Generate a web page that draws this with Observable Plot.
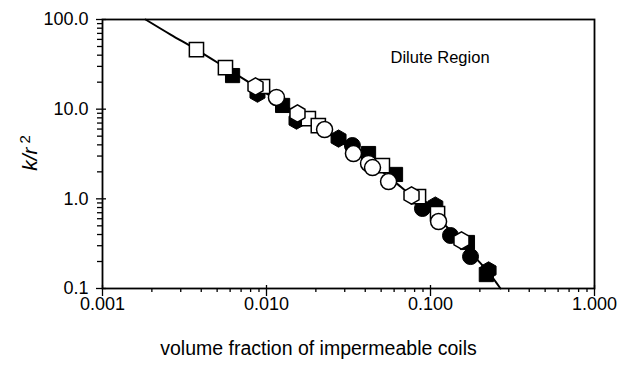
<!DOCTYPE html>
<html>
<head>
<meta charset="utf-8">
<script src="https://cdn.jsdelivr.net/npm/d3@7"></script>
<script src="https://cdn.jsdelivr.net/npm/@observablehq/plot@0.6"></script>
<style>
  html, body { margin: 0; padding: 0; background: #fff; }
  #chart { width: 623px; height: 365px; }
</style>
</head>
<body>
<div id="chart"></div>
<script>
// ---- data ----
const openSquareX   = [0.00374, 0.00562, 0.00946, 0.0180, 0.0207, 0.0509, 0.0845, 0.1104];
const openSquareY   = [46.2, 29.1, 17.9, 7.86, 6.56, 2.35, 1.06, 0.686];
const filledSquareX = [0.00621, 0.01254, 0.0419, 0.0612, 0.168, 0.219];
const filledSquareY = [23.7, 11.0, 3.20, 1.87, 0.326, 0.143];
const openHexX      = [0.00857, 0.01545, 0.0766, 0.1545];
const openHexY      = [17.9, 8.93, 1.09, 0.343];
const filledHexX    = [0.00881, 0.01524, 0.0275, 0.107, 0.226];
const filledHexY    = [14.9, 7.46, 4.70, 0.841, 0.159];
const openCircleX   = [0.0115, 0.0226, 0.0339, 0.0419, 0.0443, 0.0555, 0.112];
const openCircleY   = [13.5, 5.93, 3.20, 2.48, 2.23, 1.56, 0.558];
const filledCircleX = [0.0334, 0.0893, 0.1324, 0.1754];
const filledCircleY = [3.93, 0.780, 0.390, 0.227];
// model curve, read along its path
const curveX = [0.00183, 0.00260, 0.00374, 0.00562, 0.00857, 0.01216, 0.01610, 0.0229, 0.0325, 0.0462, 0.0656, 0.0933, 0.1324, 0.1754, 0.226, 0.267];
const curveY = [100, 67.9, 46.2, 29.1, 17.9, 11.85, 8.49, 5.63, 3.64, 2.29, 1.371, 0.800, 0.444, 0.252, 0.151, 0.1];

const xMajor = [0.001, 0.01, 0.1, 1];
const yMajor = [0.1, 1, 10, 100];
const xMinor = xMajor.slice(0, -1).flatMap(d => [2,3,4,5,6,7,8,9].map(k => k * d));
const yMinor = yMajor.slice(0, -1).flatMap(d => [2,3,4,5,6,7,8,9].map(k => k * d));
const xLabel = "volume fraction of impermeable coils";
const annotation = "Dilute Region";

const pts = (xs, ys) => xs.map((x, i) => ({x, y: ys[i]}));

const font = "'Liberation Sans', Arial, Helvetica, sans-serif";

const chart = Plot.plot({
  width: 623,
  height: 365,
  marginLeft: 102,
  marginRight: 29,
  marginTop: 19,
  marginBottom: 77,
  style: {fontFamily: font, fontSize: "18px", color: "#000", background: "#fff"},
  x: {type: "log", domain: [0.001, 1]},
  y: {type: "log", domain: [0.1, 100]},
  marks: [
    // minor ticks
    Plot.axisX({ticks: xMinor, tickSize: 4, tickFormat: () => "", label: null, strokeWidth: 1.3}),
    Plot.axisY({ticks: yMinor, tickSize: 5, tickFormat: () => "", label: null, strokeWidth: 1.3}),
    // major ticks + labels
    Plot.axisX({ticks: xMajor, tickSize: 8, tickPadding: 1, tickFormat: d3.format(".3f"), label: null, strokeWidth: 1.3, fontSize: 18}),
    Plot.axisY({ticks: yMajor, tickSize: 6, tickPadding: 8, tickFormat: d3.format(".1f"), label: null, strokeWidth: 1.3, fontSize: 18}),
    // inward part of major ticks
    Plot.ruleX(xMajor, {y1: 0.1, y2: 0.1, insetTop: -3, stroke: "#000", strokeWidth: 1.3}),
    Plot.ruleY(yMajor, {x1: 0.001, x2: 0.001, insetRight: -4, stroke: "#000", strokeWidth: 1.3}),
    Plot.frame({stroke: "#000", strokeWidth: 1.8}),
    // model curve
    Plot.line(pts(curveX, curveY), {x: "x", y: "y", stroke: "#000", strokeWidth: 2, curve: "monotone-x"}),
    // filled symbols
    Plot.dot(pts(filledSquareX, filledSquareY), {x: "x", y: "y", symbol: "square", r: 8, fill: "#000", stroke: "#000", strokeWidth: 1}),
    Plot.dot(pts(filledHexX, filledHexY), {x: "x", y: "y", symbol: "hexagon", r: 7.5, fill: "#000", stroke: "#000", strokeWidth: 1}),
    Plot.dot(pts(filledCircleX, filledCircleY), {x: "x", y: "y", symbol: "circle", r: 8, fill: "#000", stroke: "#000", strokeWidth: 1}),
    // open symbols
    Plot.dot(pts(openSquareX, openSquareY), {x: "x", y: "y", symbol: "square", r: 8, fill: "#fff", stroke: "#000", strokeWidth: 1.5}),
    Plot.dot(pts(openHexX, openHexY), {x: "x", y: "y", symbol: "hexagon", r: 7.5, fill: "#fff", stroke: "#000", strokeWidth: 1.5}),
    Plot.dot(pts(openCircleX, openCircleY), {x: "x", y: "y", symbol: "circle", r: 8, fill: "#fff", stroke: "#000", strokeWidth: 1.5}),
    // annotation
    Plot.text([annotation], {frameAnchor: "top-left", dx: 288, dy: 32, textAnchor: "start", fontSize: 16.5, fill: "#000"}),
    // x axis title
    Plot.text([xLabel], {frameAnchor: "bottom", dx: -30, dy: 66, fontSize: 19.5, fill: "#000"})
  ]
});

document.getElementById("chart").appendChild(chart);

// y-axis title: italic k/r with superscript 2
const svg = d3.select(chart);
const yt = svg.append("text")
  .attr("transform", "translate(37,153) rotate(-90)")
  .attr("text-anchor", "middle")
  .attr("font-family", font)
  .attr("font-size", 21)
  .attr("fill", "#000");
yt.append("tspan").attr("font-style", "italic").text("k/r");
yt.append("tspan").attr("dx", 4).attr("dy", -7).attr("font-size", 15).text("2");
</script>
</body>
</html>
